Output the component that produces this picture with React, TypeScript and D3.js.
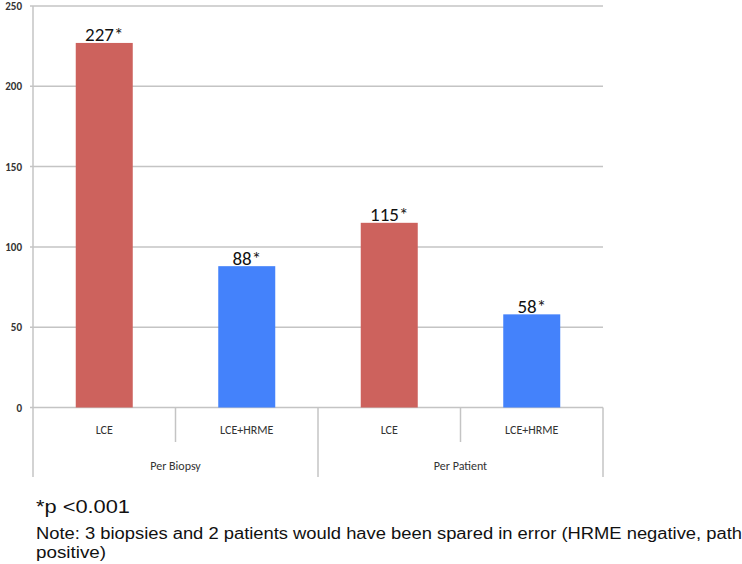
import * as d3 from "d3";
import { useEffect, useRef } from "react";

const groups = ["Per Biopsy", "Per Patient"];
const methods = ["LCE", "LCE+HRME"];
const values = [227, 88, 115, 58];
const valueLabels = ["227*", "88*", "115*", "58*"];
const barColors = ["#cd625d", "#4482fb"];
const yTicks = [0, 50, 100, 150, 200, 250];

export default function App() {
  const ref = useRef<SVGSVGElement>(null);

  useEffect(() => {
    const svg = d3.select(ref.current);
    svg.selectAll("*").remove();

    const left = 33;
    const right = 603;
    const top = 6;
    const bottom = 407.5;

    const cats = groups.flatMap((g) => methods.map((m) => g + "|" + m));
    const x = d3.scaleBand().domain(cats).range([left, right]);
    const xg = d3.scaleBand().domain(groups).range([left, right]);
    const y = d3.scaleLinear().domain([0, 250]).range([bottom, top]);

    const grid = "#c4c4c4";
    const font = "Carlito, 'Open Sans', sans-serif";

    // gridlines
    svg
      .append("g")
      .selectAll("line")
      .data(yTicks)
      .join("line")
      .attr("x1", left - 3)
      .attr("x2", right)
      .attr("y1", (d) => y(d))
      .attr("y2", (d) => y(d))
      .attr("stroke", grid)
      .attr("stroke-width", 1.5);

    svg
      .append("line")
      .attr("x1", left)
      .attr("x2", left)
      .attr("y1", top)
      .attr("y2", bottom)
      .attr("stroke", grid)
      .attr("stroke-width", 1.5);

    svg
      .append("g")
      .selectAll("text")
      .data(yTicks)
      .join("text")
      .attr("x", left - 11)
      .attr("y", (d) => y(d) + 4)
      .attr("text-anchor", "end")
      .attr("font-family", font)
      .attr("font-size", 11)
      .attr("font-weight", 600)
      .attr("fill", "#333")
      .text((d) => d);

    // bars
    const bw = x.bandwidth() * 0.4;
    svg
      .append("g")
      .selectAll("rect")
      .data(values)
      .join("rect")
      .attr("x", (d, i) => x(cats[i])! + x.bandwidth() / 2 - bw / 2)
      .attr("y", (d) => y(d))
      .attr("width", bw)
      .attr("height", (d) => y(0) - y(d))
      .attr("fill", (d, i) => barColors[i % 2]);

    svg
      .append("g")
      .selectAll("text")
      .data(values)
      .join("text")
      .attr("x", (d, i) => x(cats[i])! + x.bandwidth() / 2)
      .attr("y", (d) => y(d) - 1.5)
      .attr("text-anchor", "middle")
      .attr("font-family", font)
      .attr("font-size", 19)
      .attr("fill", "#111")
      .text((d, i) => valueLabels[i]);

    // category axis
    const inner = cats.slice(1).filter((c, i) => (i + 1) % methods.length !== 0);
    svg
      .append("g")
      .selectAll("line")
      .data(inner)
      .join("line")
      .attr("x1", (d) => x(d)!)
      .attr("x2", (d) => x(d)!)
      .attr("y1", bottom)
      .attr("y2", 442)
      .attr("stroke", grid)
      .attr("stroke-width", 1.5);

    const outer = [left, ...groups.map((g) => xg(g)! + xg.bandwidth())];
    svg
      .append("g")
      .selectAll("line")
      .data(outer)
      .join("line")
      .attr("x1", (d) => d)
      .attr("x2", (d) => d)
      .attr("y1", bottom)
      .attr("y2", 477)
      .attr("stroke", grid)
      .attr("stroke-width", 1.5);

    svg
      .append("g")
      .selectAll("text")
      .data(cats)
      .join("text")
      .attr("x", (d) => x(d)! + x.bandwidth() / 2)
      .attr("y", 434)
      .attr("text-anchor", "middle")
      .attr("font-family", font)
      .attr("font-size", 12)
      .attr("fill", "#333")
      .text((d) => d.split("|")[1]);

    svg
      .append("g")
      .selectAll("text")
      .data(groups)
      .join("text")
      .attr("x", (d) => xg(d)! + xg.bandwidth() / 2)
      .attr("y", 470)
      .attr("text-anchor", "middle")
      .attr("font-family", font)
      .attr("font-size", 12)
      .attr("fill", "#333")
      .text((d) => d);

    // footnotes
    const foot = svg.append("g").attr("font-family", "'Liberation Sans', Arial, sans-serif").attr("fill", "#111");
    foot
      .append("text")
      .attr("x", 36)
      .attr("y", 513)
      .attr("font-size", 18)
      .attr("textLength", 94)
      .attr("lengthAdjust", "spacingAndGlyphs")
      .text("*p <0.001");
    foot
      .append("text")
      .attr("x", 36)
      .attr("y", 539)
      .attr("font-size", 16)
      .attr("textLength", 706)
      .attr("lengthAdjust", "spacingAndGlyphs")
      .text("Note: 3 biopsies and 2 patients would have been spared in error (HRME negative, path");
    foot
      .append("text")
      .attr("x", 36)
      .attr("y", 558)
      .attr("font-size", 16)
      .attr("textLength", 70)
      .attr("lengthAdjust", "spacingAndGlyphs")
      .text("positive)");
  }, []);

  return (
    <svg
      ref={ref}
      width={742}
      height={564}
      style={{ position: "absolute", left: 0, top: 0, background: "#fff" }}
    />
  );
}
